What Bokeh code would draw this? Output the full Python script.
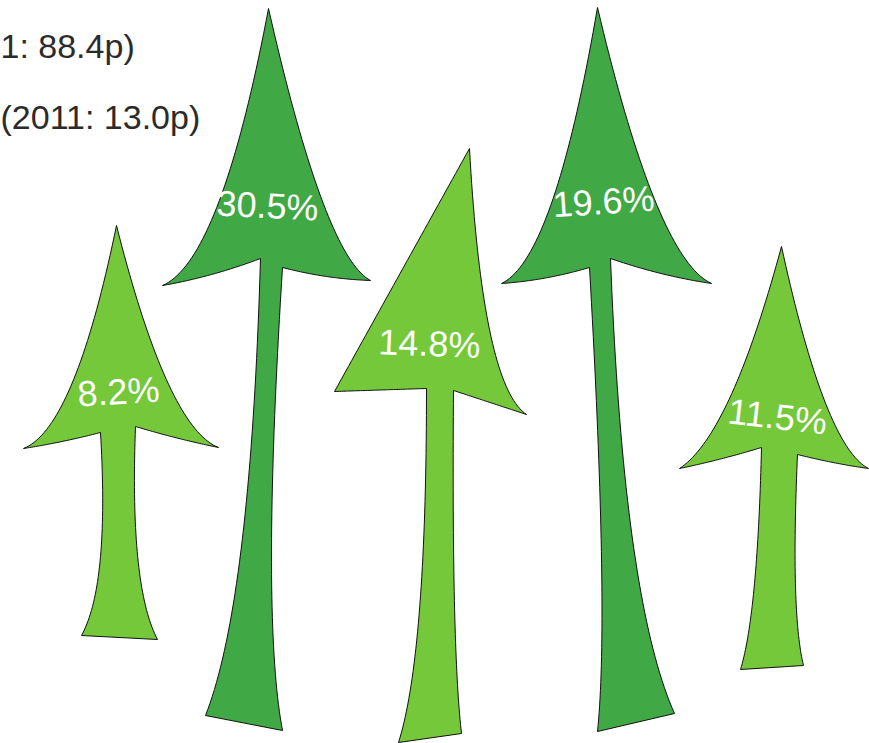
import numpy as np
from bokeh.plotting import figure
from bokeh.models import ColumnDataSource, Range1d
from bokeh.core.properties import value
from bokeh.embed import file_html
from bokeh.resources import INLINE

# Year-on-year growth shown on each arrow (left to right)
growth = [8.2, 30.5, 14.8, 19.6, 11.5]
labels = [f"{g:.1f}%" for g in growth]
shade = ["light", "dark", "light", "dark", "light"]

# Comparative figures at the top left
caption = ["1: 88.4p)", "(2011: 13.0p)"]

PALETTE = {"light": "#74C83A", "dark": "#40A845"}

# Arrow outlines in page pixels: tip, barbs, neck and foot corners
tips = [(116, 225), (268, 8), (469, 148), (597, 7), (781, 246)]
barb_l = [(23, 448), (162, 285), (334, 391), (501, 283), (679, 468)]
barb_r = [(218, 447), (370, 280), (526, 414), (711, 283), (868, 468)]
neck_l = [(100, 432), (260, 258), (426, 388), (589, 267), (761, 447)]
neck_r = [(135, 426), (282, 267), (453, 390), (610, 258), (797, 454)]
foot_l = [(81, 635), (205, 715), (398, 742), (597, 731), (740, 669)]
foot_r = [(157, 639), (282, 730), (461, 733), (674, 713), (803, 665)]
# concavity of the head sides, and bow of the shaft sides
head_l = [(0.55, 0.91), (0.55, 0.91), (0.5, 0.5), (0.55, 0.91), (0.5, 0.85)]
head_r = [(0.5, 0.91), (0.45, 0.91), (0.77, 0.89), (0.48, 0.91), (0.5, 0.9)]
shaft_dx_l = [9, -10, 0, 20, -4]
shaft_dx_r = [-6, -22, -2, 13, -7]
barb_sag = [2, 5, 0, 5, 2]

# label anchors (centre x, baseline y, rotation in degrees)
label_pos = [(118, 391, 3.5), (267, 205, -2.9), (429, 343, -2.0),
             (603, 201, 3.8), (777, 416, -6.5)]
caption_y = [45, 116]


def quad(p0, c, p1, n=40):
    t = np.linspace(0.0, 1.0, n)[:, None]
    p0, c, p1 = np.array(p0, float), np.array(c, float), np.array(p1, float)
    return (1 - t) ** 2 * p0 + 2 * t * (1 - t) * c + t ** 2 * p1


def head_ctrl(tip, barb, ab):
    a, b = ab
    return (barb[0] + a * (tip[0] - barb[0]), tip[1] + b * (barb[1] - tip[1]))


def shaft_ctrl(neck, foot, dx):
    return (neck[0] + dx, neck[1] + 0.75 * (foot[1] - neck[1]))


def barb_ctrl(barb, neck, sag):
    return ((barb[0] + neck[0]) / 2, (barb[1] + neck[1]) / 2 + sag)


def arrow_outline(i):
    T, BL, BR = tips[i], barb_l[i], barb_r[i]
    NL, NR, FL, FR = neck_l[i], neck_r[i], foot_l[i], foot_r[i]
    parts = [
        quad(T, head_ctrl(T, BR, head_r[i]), BR),
        quad(BR, barb_ctrl(BR, NR, barb_sag[i]), NR),
        quad(NR, shaft_ctrl(NR, FR, shaft_dx_r[i]), FR),
        quad(FR, ((FR[0] + FL[0]) / 2, (FR[1] + FL[1]) / 2), FL, n=2),
        quad(NL, shaft_ctrl(NL, FL, shaft_dx_l[i]), FL)[::-1],
        quad(BL, barb_ctrl(BL, NL, barb_sag[i]), NL)[::-1],
        quad(T, head_ctrl(T, BL, head_l[i]), BL)[::-1],
    ]
    pts = np.vstack(parts)
    return list(pts[:, 0]), list(pts[:, 1])


xs, ys = zip(*[arrow_outline(i) for i in range(len(growth))])
arrows = ColumnDataSource(dict(
    xs=list(xs), ys=list(ys),
    color=[PALETTE[s] for s in shade],
))

lab = ColumnDataSource(dict(
    x=[p[0] for p in label_pos],
    y=[p[1] for p in label_pos],
    angle=[np.deg2rad(p[2]) for p in label_pos],
    text=labels,
))

cap = ColumnDataSource(dict(x=[0, 0], y=caption_y, text=caption))

p = figure(width=869, height=743, output_backend="svg", toolbar_location=None,
           x_range=Range1d(0, 869), y_range=Range1d(743, 0),
           x_axis_type=None, y_axis_type=None, min_border=0,
           background_fill_color="white", border_fill_color="white")
p.outline_line_color = None
p.grid.visible = False

p.patches("xs", "ys", source=arrows, fill_color="color",
          line_color="#111111", line_width=1.0)

p.text("x", "y", text="text", angle="angle", source=lab,
       text_color="white", text_font=value("Liberation Sans"),
       text_font_size="36px", text_align="center",
       text_baseline="alphabetic")

p.text("x", "y", text="text", source=cap, text_color="#2b2b2b",
       text_font=value("Liberation Sans"), text_font_size="34px",
       text_align="left", text_baseline="alphabetic")

open("out.html", "w").write(file_html(p, INLINE))
